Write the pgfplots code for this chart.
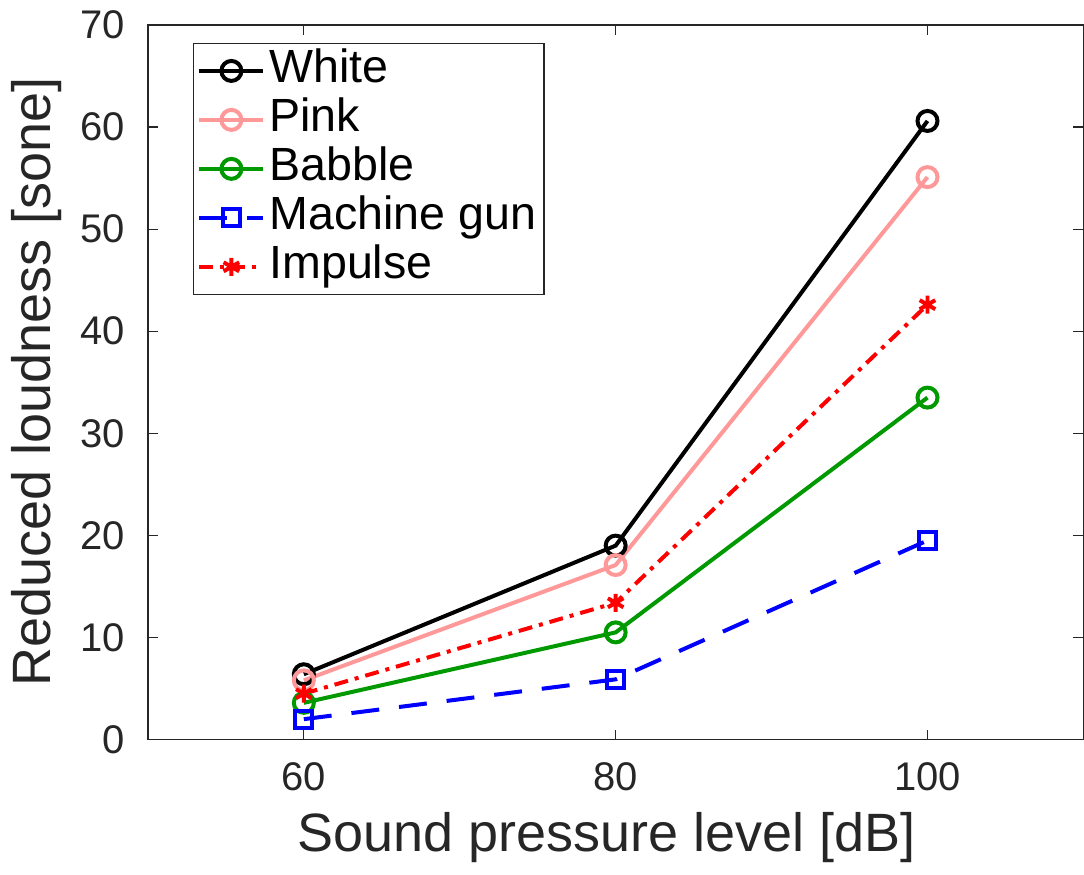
\documentclass[border=0pt]{standalone}
\usepackage{fontspec}
\setmainfont{Liberation Sans}
\usepackage{pgfplots}
\pgfplotsset{compat=1.18}
\definecolor{axgray}{RGB}{38,38,38}
\definecolor{mypink}{RGB}{255,153,153}
\definecolor{mygreen}{RGB}{0,153,0}
\begin{document}
\begin{tikzpicture}
\begin{axis}[
  width=468pt, height=357.5pt, scale only axis,
  xmin=50, xmax=110, ymin=0, ymax=70,
  xtick={60,80,100}, ytick={0,10,...,70},
  tick align=inside, major tick length=5pt,
  axis line style={axgray, line width=0.6pt},
  tick style={axgray, line width=0.6pt},
  /pgf/number format/assume math mode=true,
  ticklabel style={font=\fontsize{20}{22}\selectfont, text=axgray},
  yticklabel style={xshift=-8pt},
  xticklabel style={yshift=-8pt},
  xlabel={Sound pressure level [dB]},
  ylabel={Reduced loudness [sone]},
  label style={font=\fontsize{27}{30}\selectfont, text=axgray},
  xlabel style={at={(axis description cs:0.49,-0.137)}, anchor=center},
  ylabel style={at={(axis description cs:-0.119,0.5)}, anchor=center, rotate=0},
  legend cell align=left,
  legend style={at={(axis description cs:0.048,0.975)}, anchor=north west,
    draw=axgray, line width=0.6pt, font=\fontsize{23.3}{25}\selectfont,
    inner xsep=2pt, inner ysep=1.5pt,
    nodes={inner ysep=0.5pt, inner xsep=2pt, text height=17.5pt, text depth=6pt}},
  legend image code/.code={\draw[mark repeat=2,mark phase=2,#1] plot coordinates {(0pt,0pt) (16pt,0pt) (32pt,0pt)};},
]
\addplot[black, line width=2pt, mark=o, mark size=5pt, mark options={solid}]
  coordinates {(60,6.4) (80,19.0) (100,60.6)};
\addlegendentry{White}
\addplot[mypink, line width=2pt, mark=o, mark size=5pt, mark options={solid}]
  coordinates {(60,5.8) (80,17.1) (100,55.1)};
\addlegendentry{Pink}
\addplot[mygreen, line width=2pt, mark=o, mark size=5pt, mark options={solid}]
  coordinates {(60,3.6) (80,10.5) (100,33.5)};
\addlegendentry{Babble}
\addplot[blue, line width=2pt, dash pattern=on 14pt off 10pt, mark=square, mark size=4.2pt, mark options={solid}]
  coordinates {(60,2.0) (80,5.9) (100,19.5)};
\addlegendentry{Machine gun}
\addplot[red, line width=2pt, dash pattern=on 7pt off 3.5pt on 2pt off 3.5pt, mark=asterisk, mark size=4.5pt, mark options={solid}]
  coordinates {(60,4.5) (80,13.4) (100,42.6)};
\addlegendentry{Impulse}
\end{axis}
\pgfresetboundingbox
\path ([xshift=-74pt,yshift=-67.5pt]current axis.south west) rectangle ([xshift=0.3pt,yshift=12.5pt]current axis.north east);
\end{tikzpicture}
\end{document}
